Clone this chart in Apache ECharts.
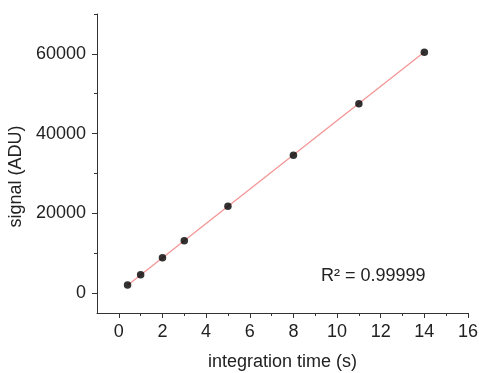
<!DOCTYPE html>
<html>
<head>
<meta charset="utf-8">
<script src="https://cdn.jsdelivr.net/npm/echarts@6/dist/echarts.min.js"></script>
<style>
html,body{margin:0;padding:0;background:#fff;}
#c{width:479px;height:373px;}
</style>
</head>
<body>
<div id="c"></div>
<script>
// Data
var integrationTime = [0.4, 1, 2, 3, 5, 8, 11, 14];
var signal = [2000, 4600, 8850, 13100, 21800, 34600, 47500, 60400];
var fitX = [0.4, 14];
var fitY = [1950, 60450];
var xMajorTicks = [0, 2, 4, 6, 8, 10, 12, 14, 16];
var xMinorTicks = [1, 3, 5, 7, 9, 11, 13, 15];
var yMajorTicks = [0, 20000, 40000, 60000];
var yMinorTicks = [10000, 30000, 50000, 70000];
var xTitle = 'integration time (s)';
var yTitle = 'signal (ADU)';
var annotation = 'R² = 0.99999';

var FONT = 'Liberation Sans, Arial, sans-serif';
var AXIS_COLOR = '#333';
var TEXT_COLOR = '#222';

var chart = echarts.init(document.getElementById('c'), null, {renderer: 'canvas'});
var pts = integrationTime.map(function (x, i) { return [x, signal[i]]; });
var fit = fitX.map(function (x, i) { return [x, fitY[i]]; });
var plain = function (v) { return String(v); };

chart.setOption({
  animation: false,
  backgroundColor: '#fff',
  textStyle: {fontFamily: FONT},
  grid: {left: 97, right: 11, top: 14, bottom: 60, containLabel: false, outerBoundsMode: 'none'},
  xAxis: [{
    type: 'value', min: -1, max: 16, position: 'bottom',
    name: xTitle, nameLocation: 'middle', nameGap: 40,
    nameTextStyle: {fontSize: 18, color: TEXT_COLOR, fontFamily: FONT},
    axisLine: {show: true, onZero: false, lineStyle: {color: AXIS_COLOR, width: 1}},
    axisTick: {show: true, length: 5, customValues: xMajorTicks, lineStyle: {color: AXIS_COLOR}},
    axisLabel: {customValues: xMajorTicks, formatter: plain, fontSize: 18, color: TEXT_COLOR, margin: 10, fontFamily: FONT},
    splitLine: {show: false}
  }, {
    type: 'value', min: -1, max: 16, position: 'bottom', offset: 0,
    axisLine: {show: false, onZero: false},
    axisTick: {show: true, length: 3, customValues: xMinorTicks, lineStyle: {color: AXIS_COLOR}},
    axisLabel: {show: false},
    splitLine: {show: false}
  }],
  yAxis: [{
    type: 'value', min: -5000, max: 70000, position: 'left',
    name: yTitle, nameLocation: 'middle', nameGap: 63, nameRotate: 90,
    nameTextStyle: {fontSize: 18, color: TEXT_COLOR, fontFamily: FONT, padding: [0, 26, 0, 0]},
    axisLine: {show: true, onZero: false, lineStyle: {color: AXIS_COLOR, width: 1}},
    axisTick: {show: true, length: 5, customValues: yMajorTicks, lineStyle: {color: AXIS_COLOR}},
    axisLabel: {customValues: yMajorTicks, formatter: plain, fontSize: 18, color: TEXT_COLOR, margin: 11, fontFamily: FONT},
    splitLine: {show: false}
  }, {
    type: 'value', min: -5000, max: 70000, position: 'left', offset: 0,
    axisLine: {show: false, onZero: false},
    axisTick: {show: true, length: 3, customValues: yMinorTicks, lineStyle: {color: AXIS_COLOR}},
    axisLabel: {show: false},
    splitLine: {show: false}
  }],
  series: [{
    type: 'line', data: fit, xAxisIndex: 0, yAxisIndex: 0,
    symbol: 'none', lineStyle: {color: '#f39696', width: 1.3}, z: 2
  }, {
    type: 'scatter', data: pts, xAxisIndex: 0, yAxisIndex: 0,
    symbol: 'circle', symbolSize: 7.5, itemStyle: {color: '#000'}, z: 3
  }],
  graphic: [{
    type: 'text', left: 321, top: 267,
    style: {text: annotation, fontSize: 18, fill: TEXT_COLOR, fontFamily: FONT}
  }]
});
</script>
</body>
</html>
